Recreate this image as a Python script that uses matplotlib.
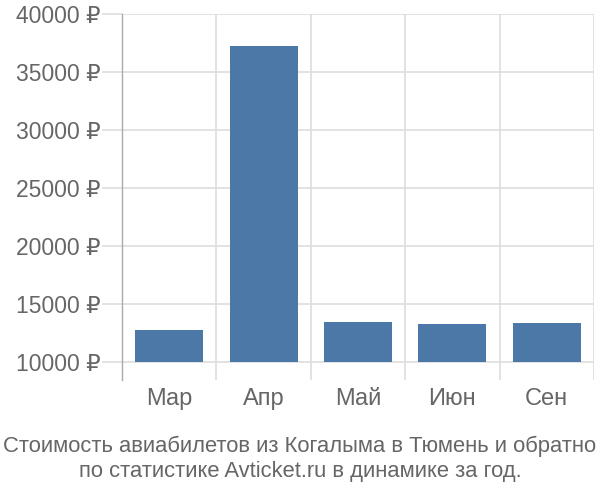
import matplotlib.pyplot as plt
import numpy as np

months = ["Мар", "Апр", "Май", "Июн", "Сен"]
prices = [12760, 37240, 13450, 13300, 13360]
yticks = [10000, 15000, 20000, 25000, 30000, 35000, 40000]

plt.rcParams['font.family'] = ['Liberation Sans', 'DejaVu Sans']

fig = plt.figure(figsize=(6, 5), dpi=100)
ax = fig.add_axes([122/600, 1-380/500, (594-122)/600, (380-14)/500])

x = np.arange(len(months))
ax.bar(x, np.array(prices) - 10000, bottom=10000, width=0.72, color="#4c78a8", zorder=3)

ax.set_xlim(-0.5, len(months) - 0.5)
ax.set_ylim(10000 - 18/58*5000, 40000)
ax.set_yticks(yticks)
ax.set_yticklabels([f"{v} ₽" for v in yticks])
ax.set_xticks(x)
ax.set_xticklabels(months)
ax.set_xticks(np.arange(-0.5, len(months)), minor=True)

ax.grid(axis="y", which="major", color="#dddddd", linewidth=1.2, zorder=0)
ax.grid(axis="x", which="minor", color="#dddddd", linewidth=1.2, zorder=0)
ax.tick_params(axis="y", length=14.4, color="#dddddd", width=1.2, labelsize=16.5, labelcolor="#666666", pad=1)
ax.tick_params(axis="x", which="major", length=0, labelsize=17, labelcolor="#666666", pad=6)
ax.tick_params(axis="x", which="minor", length=0)

for s in ["top", "right", "bottom"]:
    ax.spines[s].set_visible(False)
ax.spines["left"].set_color("#aaaaaa")
ax.spines["left"].set_linewidth(1.0)

fig.text(0.5, 1-446/500, "Стоимость авиабилетов из Когалыма в Тюмень и обратно",
         ha="center", va="center", fontsize=15.8, color="#666666")
fig.text(0.5, 1-472/500, "по статистике Avticket.ru в динамике за год.",
         ha="center", va="center", fontsize=15.8, color="#666666")

fig.savefig("out.png", dpi=100)
